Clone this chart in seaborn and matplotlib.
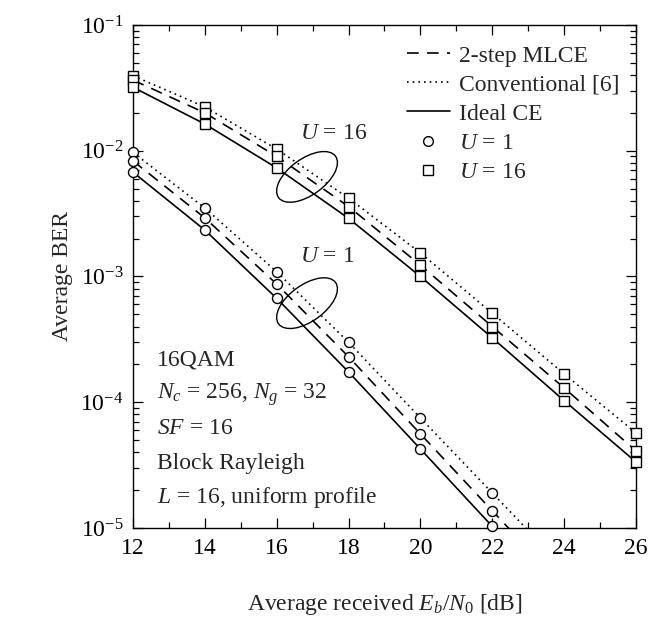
import numpy as np
import pandas as pd
import matplotlib
matplotlib.use("Agg")
import matplotlib.pyplot as plt
import seaborn as sns
from matplotlib.lines import Line2D
from matplotlib.patches import Ellipse

# Eb/N0 grid [dB]
snr_u16 = [12, 14, 16, 18, 20, 22, 24, 26]
snr_u1 = [12, 14, 16, 18, 20, 22, 24]

# U = 16 users
ber_u16_conv = [3.95e-2, 2.23e-2, 1.03e-2, 4.2e-3, 1.54e-3, 5.1e-4, 1.68e-4, 5.7e-5]
ber_u16_mlce = [3.65e-2, 2.0e-2, 9.0e-3, 3.6e-3, 1.23e-3, 4.0e-4, 1.30e-4, 4.1e-5]
ber_u16_ideal = [3.2e-2, 1.63e-2, 7.3e-3, 2.9e-3, 1.0e-3, 3.25e-4, 1.03e-4, 3.35e-5]

# U = 1 user (last point lies below the plotted range)
ber_u1_conv = [9.7e-3, 3.5e-3, 1.09e-3, 3.0e-4, 7.5e-5, 1.9e-5, 4.8e-6]
ber_u1_mlce = [8.3e-3, 2.92e-3, 8.7e-4, 2.3e-4, 5.6e-5, 1.37e-5, 3.4e-6]
ber_u1_ideal = [6.75e-3, 2.34e-3, 6.7e-4, 1.74e-4, 4.25e-5, 1.03e-5, 2.4e-6]

x_ticks = [12, 14, 16, 18, 20, 22, 24, 26]

info_lines = ["16QAM",
              "$N_c$ = 256, $N_g$ = 32",
              "$SF$ = 16",
              "Block Rayleigh",
              "$L$ = 16, uniform profile"]

sns.set_theme(style="ticks")
plt.rcParams["font.family"] = ["Liberation Serif", "DejaVu Serif"]
plt.rcParams["mathtext.fontset"] = "custom"
plt.rcParams["mathtext.rm"] = "Liberation Serif"
plt.rcParams["mathtext.it"] = "Liberation Serif:italic"
plt.rcParams["mathtext.bf"] = "Liberation Serif:bold"

FS = 17
LW = 1.2
DASH = (7, 5)
DOT = (1, 2.4)

fig = plt.figure(figsize=(6.64, 6.2), dpi=100)
ax = fig.add_axes([0.2003, 0.1484, 0.7575, 0.8113])
ax.set_yscale("log")

def draw_series(x, y, dashes, marker, size):
    df = pd.DataFrame({"snr": x, "ber": y})
    sns.lineplot(data=df, x="snr", y="ber", ax=ax, color="black", lw=LW,
                 errorbar=None, zorder=2)
    if dashes is not None:
        ax.lines[-1].set_dashes(dashes)
    pts = df[df["ber"] >= 0.95e-5]
    sns.scatterplot(data=pts, x="snr", y="ber", ax=ax, marker=marker, s=size,
                    facecolor="white", edgecolor="black", linewidth=1.0,
                    zorder=3, clip_on=False)

for y, d in [(ber_u16_conv, DOT), (ber_u16_mlce, DASH), (ber_u16_ideal, None)]:
    draw_series(snr_u16, y, d, "s", 62)
for y, d in [(ber_u1_conv, DOT), (ber_u1_mlce, DASH), (ber_u1_ideal, None)]:
    draw_series(snr_u1, y, d, "o", 52)

ax.set_xlim(12, 26)
ax.set_ylim(1e-5, 1e-1)
ax.set_xticks(x_ticks)
ax.set_xticks(range(13, 26, 2), minor=True)
ax.tick_params(which="both", direction="in", top=True, right=True,
               labelsize=FS, colors="black", width=0.9)
ax.tick_params(which="major", length=7, pad=7)
ax.tick_params(which="minor", length=4)
for sp in ax.spines.values():
    sp.set_color("black")
    sp.set_linewidth(1.0)

ax.set_xlabel("Average received $E_b/N_0$ [dB]", fontsize=FS, labelpad=24)
ax.set_ylabel("Average BER", fontsize=FS, labelpad=5)

# loops marking the curve groups
for cy in (0.698, 0.447):
    ax.add_patch(Ellipse((0.346, cy), 0.14, 0.072, angle=36, transform=ax.transAxes,
                         fill=False, edgecolor="black", lw=1.0, zorder=4))
ax.text(0.332, 0.785, "$U$ = 16", transform=ax.transAxes, fontsize=FS,
        va="center", ha="left")
ax.text(0.332, 0.540, "$U$ = 1", transform=ax.transAxes, fontsize=FS,
        va="center", ha="left")

for i, t in enumerate(info_lines):
    ax.text(0.048, 0.334 - i * 0.0685, t, transform=ax.transAxes, fontsize=FS,
            va="center", ha="left")

handles = [
    Line2D([], [], color="black", lw=LW, dashes=DASH, label="2-step MLCE"),
    Line2D([], [], color="black", lw=LW, dashes=DOT, label="Conventional [6]"),
    Line2D([], [], color="black", lw=LW, label="Ideal CE"),
    Line2D([], [], color="black", ls="none", marker="o", ms=7, mfc="white",
           label="$U$ = 1"),
    Line2D([], [], color="black", ls="none", marker="s", ms=7.5, mfc="white",
           label="$U$ = 16"),
]
ax.legend(handles=handles, loc="upper right", bbox_to_anchor=(1.0, 0.993),
          frameon=False, fontsize=FS, handlelength=1.8, handletextpad=0.4,
          labelspacing=0.32, borderaxespad=0.3)

fig.savefig("out.png", dpi=100)
